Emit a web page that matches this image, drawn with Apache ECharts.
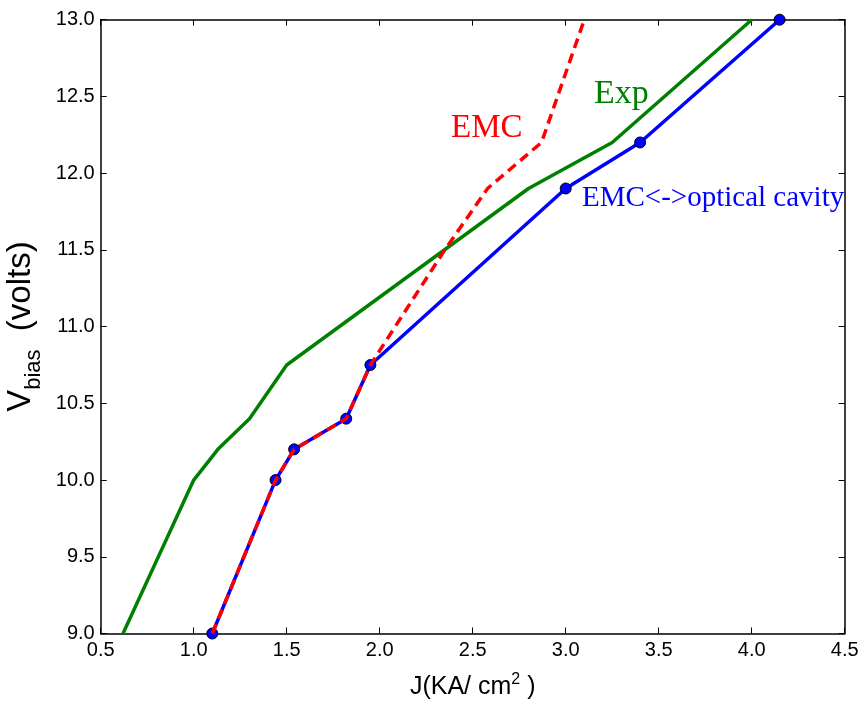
<!DOCTYPE html>
<html>
<head>
<meta charset="utf-8">
<script src="https://cdn.jsdelivr.net/npm/echarts@6/dist/echarts.min.js"></script>
<style>
html,body{margin:0;padding:0;background:#fff;}
#c{width:862px;height:702px;}
</style>
</head>
<body>
<div id="c"></div>
<script>
// Data
const expJ = [0.62, 1.0, 1.13, 1.3, 1.5, 2.8, 3.25, 4.0];
const expV = [9.0, 10.0, 10.2, 10.4, 10.75, 11.9, 12.2, 13.0];
const cavJ = [1.1, 1.44, 1.54, 1.82, 1.95, 3.0, 3.4, 4.15];
const cavV = [9.0, 10.0, 10.2, 10.4, 10.75, 11.9, 12.2, 13.0];
const emcJ = [1.1, 1.44, 1.54, 1.82, 1.95, 2.35, 2.58, 2.87, 3.1];
const emcV = [9.0, 10.0, 10.2, 10.4, 10.75, 11.5, 11.9, 12.2, 13.0];
const xTicks = [0.5, 1.0, 1.5, 2.0, 2.5, 3.0, 3.5, 4.0, 4.5];
const yTicks = [9.0, 9.5, 10.0, 10.5, 11.0, 11.5, 12.0, 12.5, 13.0];
const labelEMC = 'EMC';
const labelExp = 'Exp';
const labelCav = 'EMC<->optical cavity';

const zip = (a, b) => a.map((v, i) => [v, b[i]]);
const chart = echarts.init(document.getElementById('c'), null, {renderer: 'canvas'});
const axisLine = {show: true, onZero: false, lineStyle: {color: '#000', width: 1.5}};
const tickStyle = {show: true, inside: true, length: 6, lineStyle: {color: '#000', width: 1}};
const labelFont = {fontFamily: 'Liberation Sans', fontSize: 20, color: '#000'};

chart.setOption({
  animation: false,
  backgroundColor: '#fff',
  grid: {left: 100.7, right: 17.3, top: 19.7, bottom: 68.5, containLabel: false, outerBoundsMode: 'none'},
  xAxis: [{
    type: 'value', min: 0.5, max: 4.5, interval: 0.5, position: 'bottom',
    axisLine: axisLine, axisTick: tickStyle, splitLine: {show: false},
    axisLabel: Object.assign({margin: 7, formatter: v => xTicks.includes(v) ? v.toFixed(1) : ''}, labelFont),
    name: '{t|J(KA/ cm}{s|2}{t| )}', nameLocation: 'middle', nameGap: 38,
    nameTextStyle: {rich: {
      t: {fontFamily: 'Liberation Sans', fontSize: 25, color: '#000', lineHeight: 28, verticalAlign: 'bottom'},
      s: {fontFamily: 'Liberation Sans', fontSize: 16, color: '#000', lineHeight: 28, verticalAlign: 'top'}
    }}
  }, {
    type: 'value', min: 0.5, max: 4.5, interval: 0.5, position: 'top',
    axisLine: axisLine, axisTick: tickStyle, axisLabel: {show: false}, splitLine: {show: false}
  }],
  yAxis: [{
    type: 'value', min: 9, max: 13, interval: 0.5, position: 'left',
    axisLine: axisLine, axisTick: tickStyle, splitLine: {show: false},
    axisLabel: Object.assign({margin: 6, formatter: v => yTicks.includes(v) ? v.toFixed(1) : ''}, labelFont),
    name: '{v|V}{s|bias}{v|  (volts)}', nameLocation: 'middle', nameRotate: 90, nameGap: 51,
    nameTextStyle: {rich: {
      v: {fontFamily: 'Liberation Sans', fontSize: 33, color: '#000', lineHeight: 40, verticalAlign: 'top'},
      s: {fontFamily: 'Liberation Sans', fontSize: 22, color: '#000', lineHeight: 40, verticalAlign: 'bottom'}
    }}
  }, {
    type: 'value', min: 9, max: 13, interval: 0.5, position: 'right',
    axisLine: axisLine, axisTick: tickStyle, axisLabel: {show: false}, splitLine: {show: false}
  }],
  series: [
    {name: labelExp, type: 'line', data: zip(expJ, expV), showSymbol: false, symbol: 'none',
     lineStyle: {color: '#008000', width: 3.5}, z: 2, clip: true},
    {name: labelCav, type: 'line', data: zip(cavJ, cavV), symbol: 'circle', symbolSize: 11,
     itemStyle: {color: '#0000ff', borderColor: '#000', borderWidth: 1},
     lineStyle: {color: '#0000ff', width: 3.5}, z: 3, clip: true},
    {name: labelEMC, type: 'line', data: zip(emcJ, emcV), symbol: 'none',
     lineStyle: {color: '#ff0000', width: 3.5, type: [10, 6]}, z: 4, clip: true}
  ],
  graphic: [
    {type: 'text', left: 451, top: 112, z: 10,
     style: {text: labelEMC, fill: '#ff0000', font: '33px "Liberation Serif"'}},
    {type: 'text', left: 594, top: 77, z: 10,
     style: {text: labelExp, fill: '#008000', font: '34px "Liberation Serif"'}},
    {type: 'text', left: 582, top: 184, z: 10,
     style: {text: labelCav, fill: '#0000ff', font: '29px "Liberation Serif"'}}
  ]
});
</script>
</body>
</html>
